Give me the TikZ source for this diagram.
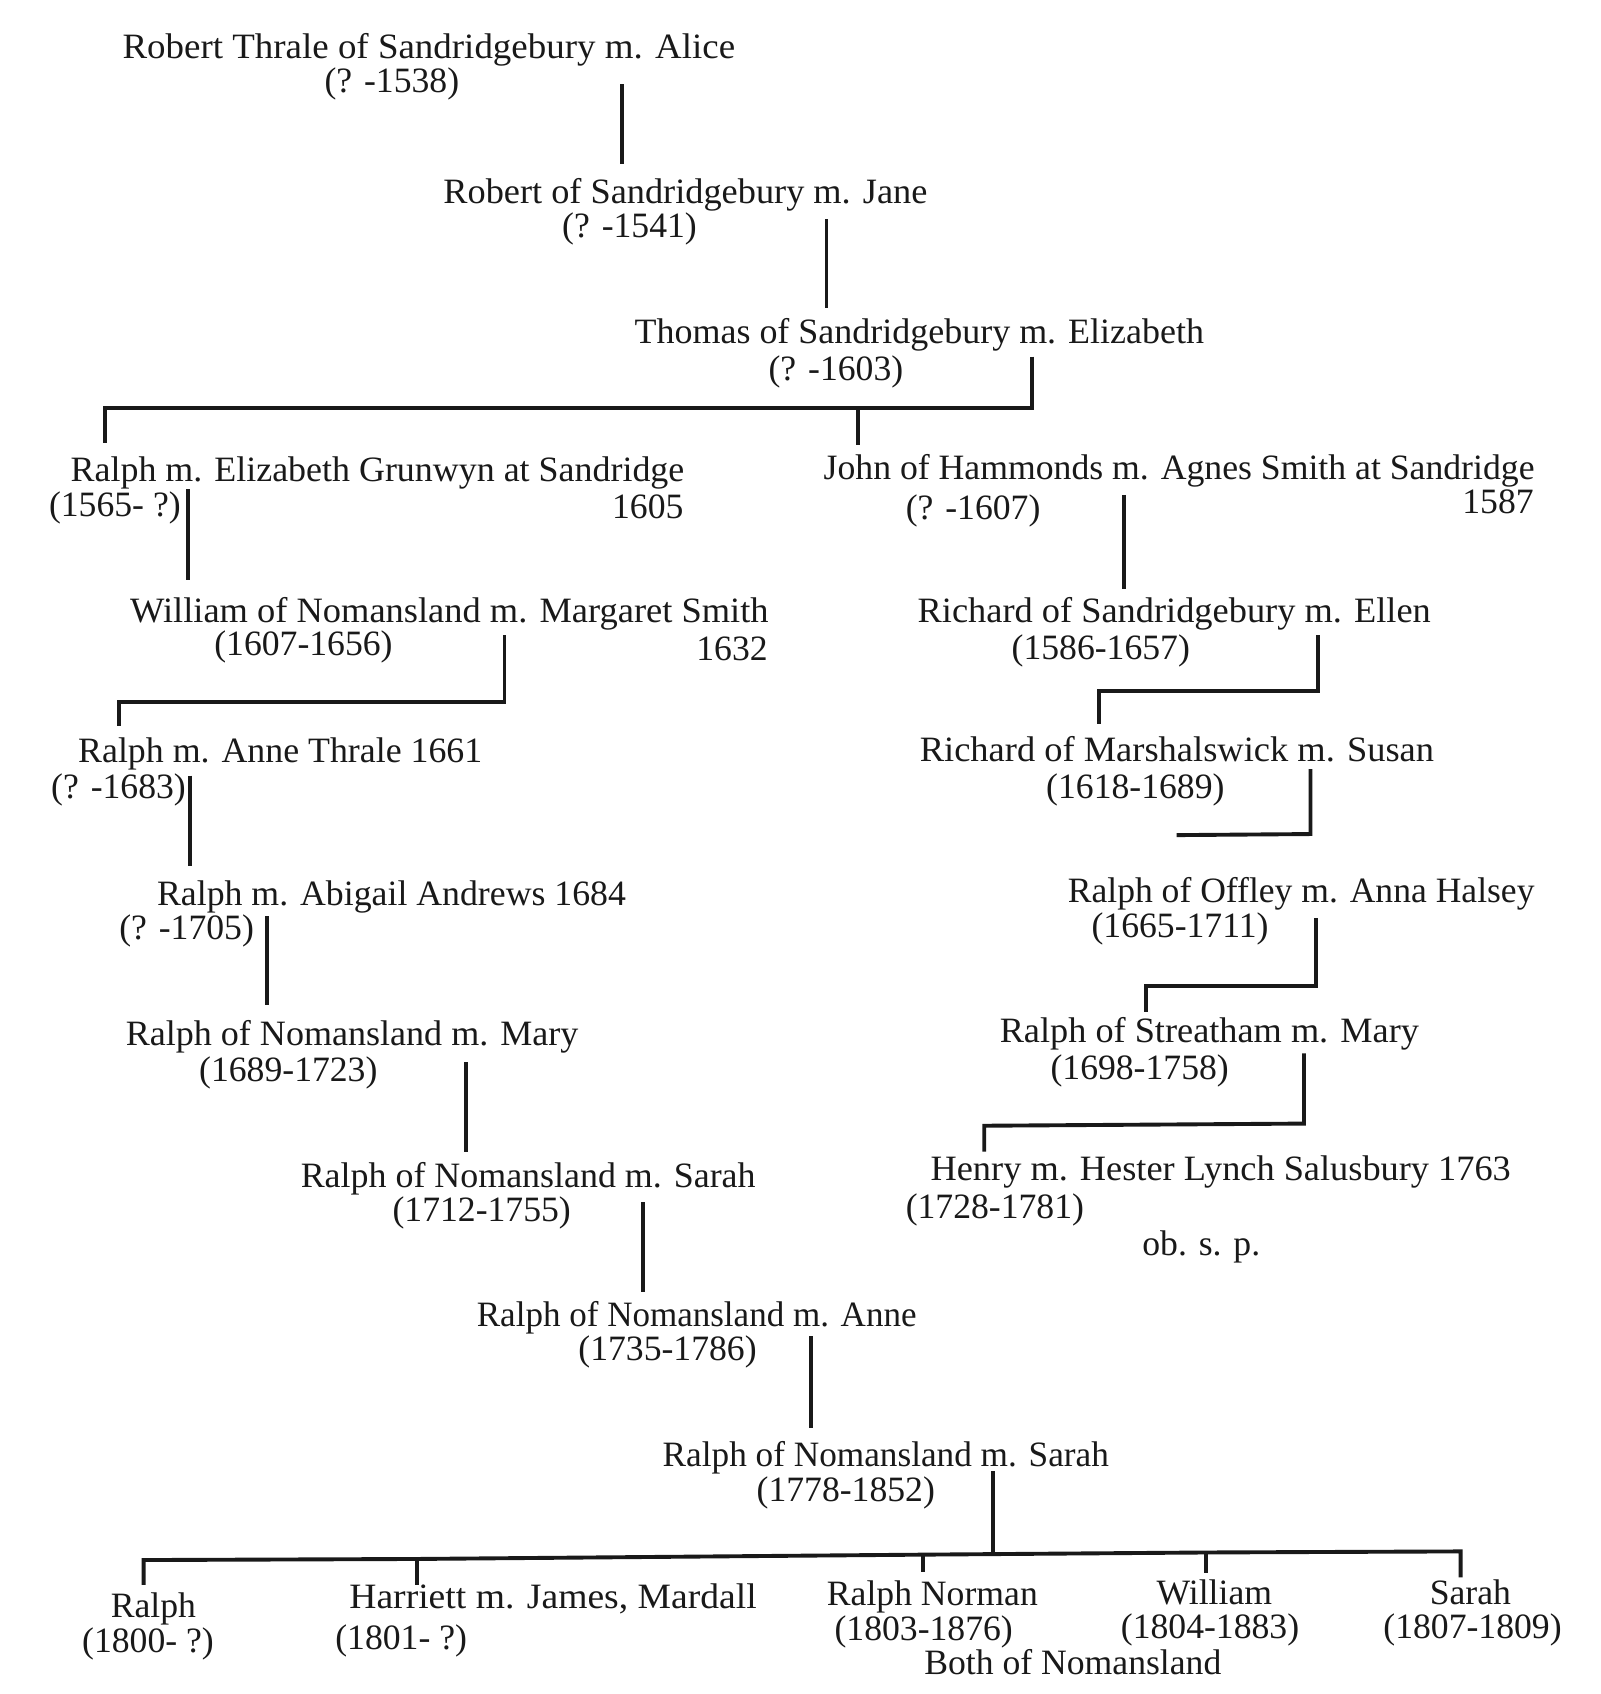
\documentclass[tikz,border=0pt]{standalone}
\usepackage{fontspec}
\usepackage{graphicx}
\setmainfont{Liberation Serif}
\newcommand\fitto[2]{\resizebox{#1pt}{\height}{#2}}
\begin{document}
\begin{tikzpicture}[x=0.5pt,y=-0.5pt,
  txt/.style={inner sep=0pt, anchor=base west, font=\fontsize{16.5}{20}\selectfont, text=black!90},
  rtxt/.style={txt, anchor=base east},
  ctxt/.style={txt, anchor=base},
  ln/.style={line width=1.8pt, line join=miter, draw=black!90}]
\useasboundingbox (0,0) rectangle (1481,1568);
\fill[white] (0,0) rectangle (1481,1568);
% ---------- people ----------
\node[txt] (t1) at (113,54) {\fitto{283.5}{Robert Thrale of Sandridgebury m. Alice}};
\node[txt] (d1) at (300,86) {(? -1538)};
\node[txt] (t2) at (410,188) {\fitto{224}{Robert of Sandridgebury m. Jane}};
\node[txt] (d2) at (520,220) {(? -1541)};
\node[txt] (t3) at (587,318) {\fitto{263.5}{Thomas of Sandridgebury m. Elizabeth}};
\node[txt] (d3) at (711,352) {(? -1603)};
\node[txt] (t4) at (65,446) {\fitto{284}{Ralph m. Elizabeth Grunwyn at Sandridge}};
\node[txt] (d4) at (45,478) {(1565- ?)};
\node[rtxt] (y4) at (633,480) {1605};
\node[txt] (t5) at (762,444) {\fitto{329}{John of Hammonds m. Agnes Smith at Sandridge}};
\node[txt] (d5) at (838,481) {(? -1607)};
\node[rtxt] (y5) at (1420,475) {1587};
\node[txt] (t6) at (120,576) {\fitto{295.5}{William of Nomansland m. Margaret Smith}};
\node[txt] (d6) at (198,607) {(1607-1656)};
\node[rtxt] (y6) at (711,611) {1632};
\node[txt] (t7) at (849,576) {\fitto{237.5}{Richard of Sandridgebury m. Ellen}};
\node[txt] (d7) at (936,610) {(1586-1657)};
\node[txt] (t8) at (72,706) {\fitto{187}{Ralph m. Anne Thrale 1661}};
\node[txt] (d8) at (47,739) {(? -1683)};
\node[txt] (t9) at (851,705) {\fitto{238}{Richard of Marshalswick m. Susan}};
\node[txt] (d9) at (968,739) {(1618-1689)};
\node[txt] (t10) at (145,838) {\fitto{217}{Ralph m. Abigail Andrews 1684}};
\node[txt] (d10) at (110,870) {(? -1705)};
\node[txt] (t11) at (988,835) {\fitto{216}{Ralph of Offley m. Anna Halsey}};
\node[txt] (d11) at (1010,868) {(1665-1711)};
\node[txt] (t12) at (116,968) {\fitto{209.5}{Ralph of Nomansland m. Mary}};
\node[txt] (d12) at (184,1001) {(1689-1723)};
\node[txt] (t13) at (925,965) {\fitto{194}{Ralph of Streatham m. Mary}};
\node[txt] (d13) at (972,999) {(1698-1758)};
\node[txt] (t14) at (861,1093) {\fitto{268.5}{Henry m. Hester Lynch Salusbury 1763}};
\node[txt] (d14) at (838,1128) {(1728-1781)};
\node[txt] (o14) at (1057,1162) {ob. s. p.};
\node[txt] (t15) at (278,1099) {\fitto{210.5}{Ralph of Nomansland m. Sarah}};
\node[txt] (d15) at (363,1131) {(1712-1755)};
\node[txt] (t16) at (441,1228) {\fitto{203.5}{Ralph of Nomansland m. Anne}};
\node[txt] (d16) at (535,1259) {(1735-1786)};
\node[txt] (t17) at (613,1357) {\fitto{206.5}{Ralph of Nomansland m. Sarah}};
\node[txt] (d17) at (700,1390) {(1778-1852)};
% children
\node[ctxt] (c1) at (142,1497) {Ralph};
\node[ctxt] (e1) at (137,1530) {(1800- ?)};
\node[txt] (c2) at (323,1489) {\fitto{188.5}{Harriett m. James, Mardall}};
\node[txt] (e2) at (310,1527) {(1801- ?)};
\node[ctxt] (c3) at (863,1486) {Ralph Norman};
\node[ctxt] (e3) at (855,1518) {(1803-1876)};
\node[ctxt] (b3) at (993,1550) {Both of Nomansland};
\node[ctxt] (c4) at (1124,1485) {William};
\node[ctxt] (e4) at (1120,1517) {(1804-1883)};
\node[ctxt] (c5) at (1361,1485) {Sarah};
\node[ctxt] (e5) at (1363,1517) {(1807-1809)};
% ---------- connector points ----------
\coordinate (a1) at (576,78);   \coordinate (b1) at (576,152);
\coordinate (a2) at (765,203);  \coordinate (b2) at (765,285);
\coordinate (a3) at (955,330);  \coordinate (m3) at (955,378);
\coordinate (l3) at (97,378);   \coordinate (b3l) at (97,410);
\coordinate (k3) at (794,378);  \coordinate (b3r) at (794,412);
\coordinate (a4) at (174,453);  \coordinate (b4) at (174,537);
\coordinate (a5) at (1040,458); \coordinate (b5) at (1040,545);
\coordinate (a6) at (467,588);  \coordinate (m6) at (467,650);
\coordinate (l6) at (110,650);  \coordinate (b6) at (110,672);
\coordinate (a7) at (1220,588); \coordinate (m7) at (1220,640);
\coordinate (l7) at (1017,640); \coordinate (b7) at (1017,670);
\coordinate (a8) at (176,718);  \coordinate (b8) at (176,802);
\coordinate (a9) at (1213,712); \coordinate (m9) at (1213,772);
\coordinate (b9) at (1089,773);
\coordinate (a10) at (247,848); \coordinate (b10) at (247,930);
\coordinate (a11) at (1218,850);\coordinate (m11) at (1218,913);
\coordinate (l11) at (1061,913);\coordinate (b11) at (1061,937);
\coordinate (a12) at (431,983); \coordinate (b12) at (431,1066);
\coordinate (a13) at (1207,975);\coordinate (m13) at (1207,1040);
\coordinate (l13) at (911,1042);\coordinate (b13) at (911,1066);
\coordinate (a14) at (595,1113);\coordinate (b14) at (595,1196);
\coordinate (a15) at (751,1237);\coordinate (b15) at (751,1322);
\coordinate (a16) at (919,1362);\coordinate (m16) at (919,1439);
\coordinate (h1) at (133,1444); \coordinate (g1) at (133,1467);
\coordinate (h2) at (386,1443); \coordinate (g2) at (386,1467);
\coordinate (h3) at (854,1439); \coordinate (g3) at (854,1455);
\coordinate (h4) at (1116,1437);\coordinate (g4) at (1116,1456);
\coordinate (h5) at (1352,1436);\coordinate (g5) at (1352,1460);
% ---------- connectors ----------
\draw[ln] (a1) -- (b1);
\draw[ln] (a2) -- (b2);
\draw[ln] (a3) -- (m3) -- (l3) -- (b3l);
\draw[ln] (k3) -- (b3r);
\draw[ln] (a4) -- (b4);
\draw[ln] (a5) -- (b5);
\draw[ln] (a6) -- (m6) -- (l6) -- (b6);
\draw[ln] (a7) -- (m7) -- (l7) -- (b7);
\draw[ln] (a8) -- (b8);
\draw[ln] (a9) -- (m9) -- (b9);
\draw[ln] (a10) -- (b10);
\draw[ln] (a11) -- (m11) -- (l11) -- (b11);
\draw[ln] (a12) -- (b12);
\draw[ln] (a13) -- (m13) -- (l13) -- (b13);
\draw[ln] (a14) -- (b14);
\draw[ln] (a15) -- (b15);
\draw[ln] (a16) -- (m16);
\draw[ln] (g1) -- (h1) -- (h2) -- (h3) -- (h4) -- (h5) -- (g5);
\draw[ln] (h2) -- (g2);
\draw[ln] (h3) -- (g3);
\draw[ln] (h4) -- (g4);
\end{tikzpicture}
\end{document}
